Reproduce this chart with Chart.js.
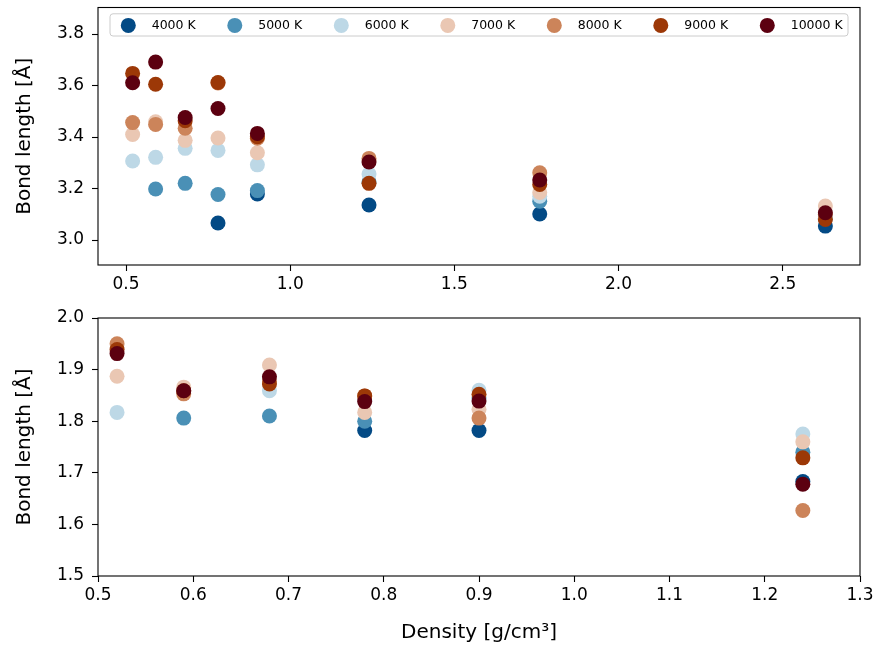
<!DOCTYPE html>
<html><head><meta charset="utf-8">
<script src="https://cdn.jsdelivr.net/npm/chart.js@4/dist/chart.umd.min.js"></script>
<style>
html,body{margin:0;padding:0;background:#fff;}
#wrap{position:relative;width:880px;height:645px;overflow:hidden;}
canvas{position:absolute;left:0;}
</style></head><body>
<div id="wrap">
<canvas id="topc" width="880" height="300" style="top:0;width:880px;height:300px"></canvas>
<canvas id="botc" width="880" height="345" style="top:300px;width:880px;height:345px"></canvas>
</div>
<script>
// ---- data ----
const temperatures = ['4000 K','5000 K','6000 K','7000 K','8000 K','9000 K','10000 K'];
const tempColors = ['#034a85','#4a90b6','#bdd8e6','#eac7b3','#cc845a','#9c3807','#5c0010'];

const densityTop = [0.52, 0.59, 0.68, 0.78, 0.90, 1.24, 1.76, 2.63];
const top4000  = [null,  null,  null,  3.066, 3.179, 3.136, 3.101, 3.054];
const top5000  = [null,  3.198, 3.220, 3.177, 3.192, 3.225, 3.151, 3.085];
const top6000  = [3.307, 3.321, 3.356, 3.348, 3.292, 3.256, 3.170, 3.090];
const top7000  = [3.410, 3.459, 3.387, 3.396, 3.339, 3.310, 3.185, 3.132];
const top8000  = [3.456, 3.449, 3.434, 3.610, 3.395, 3.317, 3.261, 3.100];
const top9000  = [3.647, 3.605, 3.463, 3.612, 3.401, 3.220, 3.216, 3.080];
const top10000 = [3.611, 3.691, 3.476, 3.511, 3.414, 3.303, 3.233, 3.106];

const densityBottom = [0.52, 0.59, 0.68, 0.78, 0.90, 1.24];
const bot4000  = [null,  null,  null,  1.782, 1.782, 1.683];
const bot5000  = [null,  1.806, 1.810, 1.800, 1.845, 1.740];
const bot6000  = [1.817, null,  1.859, 1.840, 1.860, 1.775];
const bot7000  = [1.887, 1.866, 1.909, 1.817, 1.823, 1.760];
const bot8000  = [1.950, 1.853, 1.878, 1.849, 1.806, 1.627];
const bot9000  = [1.939, 1.859, 1.872, 1.849, 1.852, 1.729];
const bot10000 = [1.931, 1.859, 1.886, 1.838, 1.839, 1.678];

const topXTicks = [0.5, 1.0, 1.5, 2.0, 2.5];
const topYTicks = [3.0, 3.2, 3.4, 3.6, 3.8];
const botXTicks = [0.5, 0.6, 0.7, 0.8, 0.9, 1.0, 1.1, 1.2, 1.3];
const botYTicks = [1.5, 1.6, 1.7, 1.8, 1.9, 2.0];

const yTitle = 'Bond length [Å]';
const xTitle = 'Density [g/cm³]';

const topSeries = [top4000, top5000, top6000, top7000, top8000, top9000, top10000];
const botSeries = [bot4000, bot5000, bot6000, bot7000, bot8000, bot9000, bot10000];

// ---- rendering ----
const FONT = "'DejaVu Sans', sans-serif";

const framePlugin = {
  id: 'frame',
  afterDraw(chart) {
    const {ctx, chartArea: a} = chart;
    ctx.save();
    ctx.strokeStyle = '#000';
    ctx.lineWidth = 1.1;
    ctx.strokeRect(a.left, a.top, a.right - a.left, a.bottom - a.top);
    ctx.restore();
  }
};

const legendPlugin = {
  id: 'mplLegend',
  afterDraw(chart, args, opts) {
    if (!opts || !opts.show) return;
    const {ctx, chartArea: a} = chart;
    const left = a.left + 12, right = a.right - 12;
    const top = a.top + 6.3, bottom = a.top + 28.5;
    ctx.save();
    ctx.beginPath();
    ctx.roundRect(left, top, right - left, bottom - top, 3);
    ctx.fillStyle = 'rgba(255,255,255,0.8)';
    ctx.fill();
    ctx.strokeStyle = '#cccccc';
    ctx.lineWidth = 1;
    ctx.stroke();
    const cy = (top + bottom) / 2 + 0.5;
    chart.data.datasets.forEach((ds, i) => {
      const cx = left + 18.3 + i * 106.5;
      ctx.beginPath();
      ctx.arc(cx, cy, 7.5, 0, Math.PI * 2);
      ctx.fillStyle = ds.backgroundColor;
      ctx.fill();
      ctx.fillStyle = '#000';
      ctx.font = '12.5px ' + FONT;
      ctx.textAlign = 'left';
      ctx.textBaseline = 'middle';
      ctx.fillText(ds.label, cx + 23.4, cy);
    });
    ctx.restore();
  }
};

function buildDatasets(xs, series) {
  return series.map((vals, i) => ({
    label: temperatures[i],
    data: xs.map((x, j) => ({x: x, y: vals[j]})).filter(p => p.y !== null),
    backgroundColor: tempColors[i],
    borderColor: tempColors[i],
    pointRadius: 7.5,
    pointHoverRadius: 7.5,
    pointBorderWidth: 0,
    order: -i
  }));
}

function axisCommon(ticksArr, fixedSize, horizontal) {
  return {
    type: 'linear',
    afterBuildTicks: (s) => { s.ticks = ticksArr.map(v => ({value: v})); },
    afterFit: (s) => {
      if (horizontal) s.height = fixedSize; else s.width = fixedSize;
      s.paddingTop = 0; s.paddingBottom = 0; s.paddingLeft = 0; s.paddingRight = 0;
    },
    grid: {display: true, drawOnChartArea: false, drawTicks: true, tickLength: 6, tickColor: '#000', tickWidth: 1.1},
    border: {display: false},
    ticks: {
      autoSkip: false, maxRotation: 0, color: '#000', padding: horizontal ? 3 : 8,
      font: {family: FONT, size: 17},
      callback: (v) => Number(v).toFixed(1)
    }
  };
}

function makeChart(id, xs, series, xr, yr, xt, yt, xAxisH, padTop, showXTitle, showLegend) {
  const xAxis = axisCommon(xt, xAxisH, true);
  xAxis.min = xr[0]; xAxis.max = xr[1]; xAxis.position = 'bottom';
  xAxis.title = {display: showXTitle, text: xTitle, color: '#000', font: {family: FONT, size: 20}, padding: {top: 0, bottom: 0}};
  const yAxis = axisCommon(yt, 98, false);
  yAxis.min = yr[0]; yAxis.max = yr[1]; yAxis.position = 'left';
  yAxis.title = {display: true, text: yTitle, color: '#000', font: {family: FONT, size: 20}, padding: {top: 13, bottom: 0}};
  return new Chart(document.getElementById(id), {
    type: 'scatter',
    data: {datasets: buildDatasets(xs, series)},
    options: {
      responsive: false, animation: false, devicePixelRatio: 1,
      layout: {padding: {top: padTop, right: 20, left: 0, bottom: 0}},
      events: [],
      plugins: {legend: {display: false}, tooltip: {enabled: false}, mplLegend: {show: showLegend}},
      scales: {x: xAxis, y: yAxis}
    },
    plugins: [framePlugin, legendPlugin]
  });
}

makeChart('topc', densityTop, topSeries, [0.4145, 2.7355], [2.903, 3.903], topXTicks, topYTicks, 35, 7, false, true);
makeChart('botc', densityBottom, botSeries, [0.5, 1.3], [1.5, 2.0], botXTicks, botYTicks, 69, 18, true, false);
</script>
</body></html>
